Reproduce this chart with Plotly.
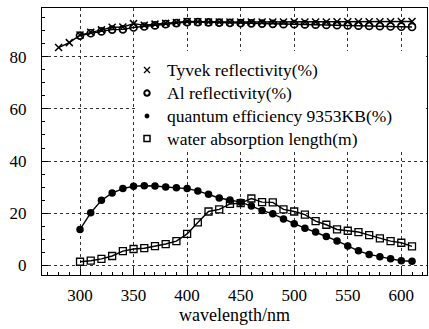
import plotly.graph_objects as go

# ---- data ----
wl_tyvek = [280, 290, 300, 310, 320, 330, 340, 350, 360, 370, 380, 390, 400, 410, 420, 430, 440,
            450, 460, 470, 480, 490, 500, 510, 520, 530, 540, 550, 560, 570, 580, 590, 600, 610]
tyvek = [83.6, 85.5, 88.4, 89.5, 90.4, 91.4, 91.5, 92.8, 92.2, 92.6, 92.9, 93.2, 93.6, 93.5, 93.4,
         93.4, 93.4, 93.4, 93.4, 93.4, 93.4, 93.4, 93.5, 93.4, 93.4, 93.4, 93.5, 93.5, 93.5, 93.5,
         93.5, 93.5, 93.6, 93.6]

wl = [300, 310, 320, 330, 340, 350, 360, 370, 380, 390, 400, 410, 420, 430, 440, 450,
      460, 470, 480, 490, 500, 510, 520, 530, 540, 550, 560, 570, 580, 590, 600, 610]
al = [88.2, 89.1, 89.8, 90.5, 90.6, 91.3, 91.7, 92.1, 92.6, 93.0, 93.4, 93.4, 93.3, 93.2, 93.1, 93.0,
      92.9, 92.8, 92.7, 92.6, 92.6, 92.5, 92.4, 92.3, 92.2, 92.1, 92.0, 91.9, 91.8, 91.7, 91.6, 91.5]
qe = [13.7, 20.1, 24.9, 27.7, 29.4, 30.3, 30.5, 30.4, 30.0, 29.7, 29.4, 28.5, 27.2, 25.8, 25.0, 24.2,
      22.7, 21.0, 19.7, 17.7, 15.9, 14.2, 12.7, 11.0, 9.3, 7.3, 5.5, 4.1, 3.2, 2.4, 1.7, 1.5]
water = [1.3, 1.7, 2.4, 3.5, 5.4, 6.2, 6.5, 7.3, 8.1, 9.2, 12.0, 16.4, 20.6, 21.4, 23.5, 23.8,
         25.6, 24.2, 24.1, 21.4, 20.6, 19.4, 16.9, 15.5, 13.7, 13.2, 12.7, 11.5, 10.3, 9.2, 8.6, 7.2]

names = ["Tyvek reflectivity(%)", "Al reflectivity(%)",
         "quantum efficiency 9353KB(%)", "water absorption length(m)"]

x_ticks = [300, 350, 400, 450, 500, 550, 600]
y_ticks = [0, 20, 40, 60, 80]

FONT = "Liberation Serif"

# plot-area geometry (pixels)
W, H = 429, 329
ML, MR, MT, MB = 42, 2, 8, 54
PW, PH = W - ML - MR, H - MT - MB


def px2x(px):
    return (px - ML) / PW


def px2y(py):
    return (H - MB - py) / PH


fig = go.Figure()
line = dict(color="black", width=1.4)

series = [
    (wl_tyvek, tyvek, dict(symbol="x-thin", size=7, color="black", line=dict(color="black", width=1.5))),
    (wl, al, dict(symbol="circle-open", size=7, color="black", line=dict(color="black", width=1.7))),
    (wl, qe, dict(symbol="circle", size=7.5, color="black")),
    (wl, water, dict(symbol="square-open", size=7, color="black", line=dict(color="black", width=1.3))),
]
for (xs, ys, mk), nm in zip(series, names):
    fig.add_trace(go.Scatter(x=xs, y=ys, mode="lines+markers", line=line, marker=mk,
                             name=nm, showlegend=False, cliponaxis=False))

axis_common = dict(
    showline=True, linecolor="black", linewidth=1.3, mirror=True,
    ticks="inside", ticklen=6, tickwidth=1, tickcolor="black",
    showgrid=True, gridcolor="#333", griddash="dot", gridwidth=1,
    zeroline=False, tickfont=dict(family=FONT, size=17, color="black"),
)

fig.update_xaxes(range=[264.5, 624], tickvals=x_ticks,
                 minor=dict(dtick=10, tick0=300, ticks="inside", ticklen=3, tickcolor="black", showgrid=False),
                 ticklabelstandoff=4,
                 title=dict(text="wavelength/nm", font=dict(family=FONT, size=18, color="black"), standoff=0),
                 **axis_common)
fig.update_yaxes(range=[-3.8, 98.8], tickvals=y_ticks,
                 minor=dict(dtick=5, tick0=0, ticks="inside", ticklen=3, tickcolor="black", showgrid=False),
                 ticklabelstandoff=11,
                 **axis_common)

# ---- manual legend (white box covering grid, symbols + text) ----
shapes = [dict(type="rect", xref="paper", yref="paper", layer="above",
               x0=px2x(135), x1=px2x(426), y0=px2y(150), y1=px2y(51),
               fillcolor="white", line=dict(width=0))]
annotations = []
sym_x = px2x(147)
txt_x = px2x(165)
rows_py = [70, 93, 116, 138.5]
for i, (nm, py) in enumerate(zip(names, rows_py)):
    yc = px2y(py)
    base = dict(xref="paper", yref="paper", xsizemode="pixel", ysizemode="pixel",
                xanchor=sym_x, yanchor=yc, layer="above")
    if i == 0:
        shapes.append(dict(type="path", path="M-3,-3L3,3M-3,3L3,-3",
                           line=dict(color="black", width=1.3), **base))
    elif i == 1:
        shapes.append(dict(type="circle", x0=-2.7, x1=2.7, y0=-2.7, y1=2.7,
                           line=dict(color="black", width=2), **base))
    elif i == 2:
        shapes.append(dict(type="circle", x0=-2.2, x1=2.2, y0=-2.2, y1=2.2,
                           fillcolor="black", line=dict(color="black", width=0.5), **base))
    else:
        shapes.append(dict(type="rect", x0=-3, x1=3, y0=-3, y1=3,
                           line=dict(color="black", width=1.5), **base))
    annotations.append(dict(text=nm, xref="paper", yref="paper", x=txt_x, y=yc,
                            xanchor="left", yanchor="middle", showarrow=False,
                            font=dict(family=FONT, size=17.5, color="black")))

fig.update_layout(
    width=W, height=H,
    margin=dict(l=ML, r=MR, t=MT, b=MB),
    paper_bgcolor="white", plot_bgcolor="white",
    font=dict(family=FONT, size=17, color="black"),
    showlegend=False,
    shapes=shapes, annotations=annotations,
)

fig.write_html("out.html")
